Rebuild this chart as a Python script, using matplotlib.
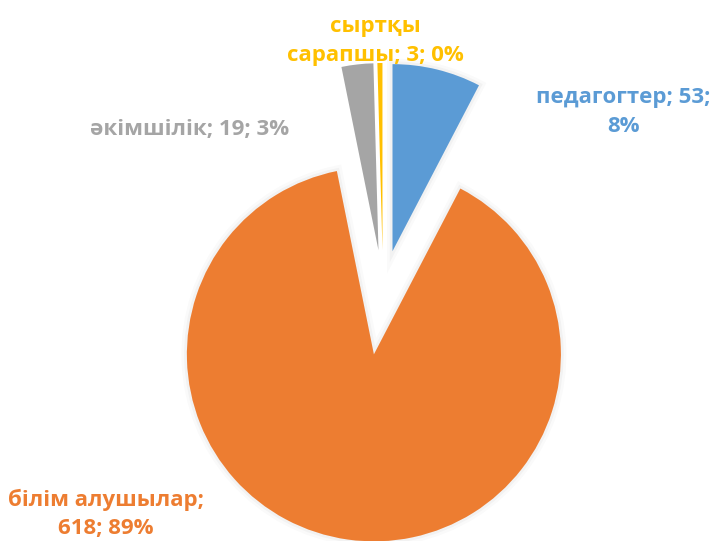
import matplotlib
matplotlib.use("Agg")
import matplotlib.pyplot as plt
import matplotlib.patheffects as pe

categories = ["педагогтер", "білім алушылар", "әкімшілік", "сыртқы\nсарапшы"]
values = [53, 618, 19, 3]
percent_labels = ["8%", "89%", "3%", "0%"]
colors = ["#5B9BD5", "#ED7D31", "#A5A5A5", "#FFC000"]
explode = [40, 65, 40, 40]

W, H = 713, 541
fig = plt.figure(figsize=(W / 100, H / 100), dpi=100)
ax = fig.add_axes([0, 0, 1, 1])

shadow = [
    pe.Stroke(linewidth=8, foreground="black", alpha=0.018),
    pe.Stroke(linewidth=4, foreground="black", alpha=0.03),
    pe.Normal(),
]
wedges, _ = ax.pie(values, colors=colors, explode=explode, startangle=90,
                   counterclock=False, center=(383, H - 290), radius=187,
                   frame=True, wedgeprops=dict(linewidth=0))
for w in wedges[:2]:
    w.set_path_effects(shadow)
ax.set_xlim(0, W)
ax.set_ylim(0, H)
ax.set_aspect("equal")
ax.axis("off")

fam = ["Open Sans", "DejaVu Sans"]
fs = 16
texts = [
    (f"{categories[0]}; {values[0]};\n{percent_labels[0]}", 623, 112, colors[0]),
    (f"{categories[1]};\n{values[1]}; {percent_labels[1]}", 106, 514, colors[1]),
    (f"{categories[2]}; {values[2]}; {percent_labels[2]}", 190, 130, colors[2]),
    (f"{categories[3]}; {values[3]}; {percent_labels[3]}", 375, 41, colors[3]),
]
for t, x, y, c in texts:
    ax.text(x, H - y, t, ha="center", va="center", color=c, fontsize=fs,
            fontweight="bold", family=fam, linespacing=1.45)

fig.savefig("out.png", dpi=100)
